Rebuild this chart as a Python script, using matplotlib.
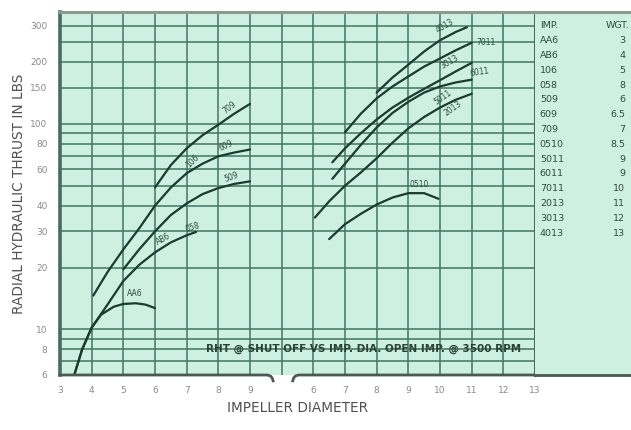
import matplotlib
matplotlib.use('Agg')
import matplotlib.pyplot as plt

# ---- data (impeller dia in inches, thrust in lbs) ----
# left scale, dia 3-9
aa6_x = [3.45, 3.7, 4.0, 4.3, 4.7, 5.0, 5.4, 5.7, 6.0]
aa6_y = [6.0, 8.0, 10.2, 11.8, 12.9, 13.3, 13.4, 13.2, 12.7]
ab6_x = [3.45, 3.7, 4.0, 4.5, 5.0, 5.5, 6.0, 6.5, 7.0, 7.3]
ab6_y = [6.0, 8.0, 10.2, 13.2, 17.2, 20.6, 23.7, 26.5, 28.7, 29.8]
i106_x = [4.05, 4.5, 5.0, 5.5, 6.0, 6.5, 7.0, 7.5, 8.0, 8.5, 9.0]
i106_y = [14.6, 19.0, 24.5, 31.0, 40.0, 49.0, 57.5, 64.0, 69.5, 72.5, 75.0]
i509_x = [5.0, 5.5, 6.0, 6.5, 7.0, 7.5, 8.0, 8.5, 9.0]
i509_y = [19.6, 24.5, 30.0, 36.0, 41.0, 45.5, 48.7, 51.0, 52.5]
i709_x = [6.0, 6.5, 7.0, 7.5, 8.0, 8.5, 9.0]
i709_y = [49.0, 63.0, 76.0, 88.0, 99.0, 112.0, 125.0]

# right scale, dia 6-13
i0510_x = [6.5, 7.0, 7.5, 8.0, 8.5, 9.0, 9.5, 9.95]
i0510_y = [27.5, 32.5, 36.5, 40.5, 43.8, 46.0, 46.0, 43.2]
i5011_x = [6.05, 6.5, 7.0, 7.5, 8.0, 8.5, 9.0, 9.5, 10.0, 10.5, 11.0]
i5011_y = [35.0, 42.0, 50.0, 58.0, 68.0, 81.0, 95.0, 108.0, 120.0, 131.0, 140.0]
i6011_x = [6.6, 7.0, 7.5, 8.0, 8.5, 9.0, 9.5, 10.0, 10.5, 11.0]
i6011_y = [54.0, 64.0, 79.0, 96.0, 113.0, 128.0, 142.0, 152.0, 159.0, 164.0]
i3013_x = [6.6, 7.0, 7.5, 8.0, 8.5, 9.0, 9.5, 10.0, 10.5, 11.0]
i3013_y = [65.0, 76.0, 90.0, 105.0, 120.0, 134.0, 148.0, 163.0, 180.0, 198.0]
i7011_x = [7.0, 7.5, 8.0, 8.5, 9.0, 9.5, 10.0, 10.5, 11.0]
i7011_y = [91.0, 112.0, 133.0, 152.0, 170.0, 190.0, 208.0, 228.0, 248.0]
i4013_x = [8.0, 8.5, 9.0, 9.5, 10.0, 10.5, 10.85]
i4013_y = [142.0, 168.0, 194.0, 225.0, 255.0, 280.0, 295.0]

left_ticks = [3, 4, 5, 6, 7, 8, 9]
right_ticks = [6, 7, 8, 9, 10, 11, 12, 13]
y_ticks = [6, 8, 10, 20, 30, 40, 60, 80, 100, 150, 200, 300]
y_grid = [7, 8, 9, 10, 20, 30, 40, 50, 60, 70, 80, 90, 100, 150, 200, 250, 300]

imp_names = ['AA6', 'AB6', '106', '058', '509', '609', '709', '0510',
             '5011', '6011', '7011', '2013', '3013', '4013']
imp_weights = ['3', '4', '5', '8', '6', '6.5', '7', '8.5',
               '9', '9', '10', '11', '12', '13']

# right-hand scale sits after a break: shift it along the grid
shift = 5

bg = '#cdf0e0'
grid_c = '#46796a'
line_c = '#1c3a30'
text_c = '#2f4a40'

plt.rcParams['font.family'] = ['DejaVu Sans']

fig = plt.figure(figsize=(6.31, 4.30), dpi=100)
ax = fig.add_axes([60 / 631, 55 / 430, 475 / 631, 363 / 430])
ax.set_facecolor(bg)
ax.set_yscale('log')
ax.set_xlim(3, 18)
ax.set_ylim(6, 350)

for v in range(3, 19):
    ax.axvline(v, color=grid_c, lw=1.15, zorder=1)
for v in y_grid:
    ax.axhline(v, color=grid_c, lw=1.15, zorder=1)

left_curves = [(aa6_x, aa6_y), (ab6_x, ab6_y), (i106_x, i106_y),
               (i509_x, i509_y), (i709_x, i709_y)]
right_curves = [(i0510_x, i0510_y), (i5011_x, i5011_y), (i6011_x, i6011_y),
                (i3013_x, i3013_y), (i7011_x, i7011_y), (i4013_x, i4013_y)]
for xs, ys in left_curves:
    ax.plot(xs, ys, color=line_c, lw=1.6, solid_capstyle='round',
            solid_joinstyle='round', zorder=3)
for xs, ys in right_curves:
    ax.plot([x + shift for x in xs], ys, color=line_c, lw=1.6,
            solid_capstyle='round', solid_joinstyle='round', zorder=3)

# curve labels: (text, dia, lbs, angle, on right scale)
labels = [
    ('709', 8.35, 120, 38, False), ('106', 7.2, 66, 45, False),
    ('609', 8.25, 78, 25, False), ('509', 8.4, 55, 20, False),
    ('AB6', 6.25, 27.5, 30, False), ('058', 7.2, 31.5, 18, False),
    ('AA6', 5.35, 15.0, 0, False),
    ('4013', 10.15, 300, 30, True), ('7011', 11.45, 248, 0, True),
    ('3013', 10.3, 200, 30, True), ('6011', 11.25, 178, 8, True),
    ('5011', 10.1, 135, 35, True), ('2013', 10.4, 119, 35, True),
    ('0510', 9.35, 50.5, 0, True),
]
for txt, x, y, rot, right in labels:
    ax.text(x + (shift if right else 0), y, txt, fontsize=5.5, color=text_c,
            rotation=rot, ha='center', va='center', zorder=4)

ax.text(12.6, 8.0, 'RHT @ SHUT OFF VS IMP. DIA. OPEN IMP. @ 3500 RPM',
        fontsize=7.5, fontweight='bold', color='#2a4038', ha='center',
        va='center', zorder=4)

xt = left_ticks + [t + shift for t in right_ticks]
xl = [str(t) for t in left_ticks] + [str(t) for t in right_ticks]
ax.set_xticks(xt)
ax.set_xticklabels(xl)
ax.set_yticks(y_ticks)
ax.set_yticklabels([str(t) for t in y_ticks])
ax.minorticks_off()
ax.tick_params(length=0, labelsize=6.5, labelcolor='#8a8a8a')
ax.tick_params(axis='x', pad=8)
ax.tick_params(axis='y', pad=9)

ax.spines['bottom'].set_visible(False)
ax.spines['left'].set_color('#4c6a60')
ax.spines['left'].set_linewidth(2.6)
ax.spines['right'].set_color('#4c6a60')
ax.spines['right'].set_linewidth(2.2)
ax.spines['top'].set_color('#8c9a95')
ax.spines['top'].set_linewidth(2.2)

# broken bottom axis
tr = ax.get_xaxis_transform()
ax.plot([3, 9.55, 9.65, 9.7, 9.73], [0, 0, -0.003, -0.008, -0.016],
        transform=tr, color='#4c5a55', lw=2.0, clip_on=False, zorder=5)
ax.plot([10.35, 10.38, 10.43, 10.53, 18], [-0.016, -0.008, -0.003, 0, 0],
        transform=tr, color='#4c5a55', lw=2.0, clip_on=False, zorder=5)

ax.set_ylabel('RADIAL HYDRAULIC THRUST IN LBS', fontsize=9.8, color='#505050')
ax.yaxis.set_label_coords(-0.072, 0.50)
ax.set_xlabel('IMPELLER DIAMETER', fontsize=9.8, color='#505050')
ax.xaxis.set_label_coords(0.5, -0.072)

# weight table panel
tab = fig.add_axes([535 / 631, 55 / 430, 96 / 631, 363 / 430])
tab.set_facecolor(bg)
tab.set_xticks([])
tab.set_yticks([])
for s in ['left', 'right']:
    tab.spines[s].set_visible(False)
tab.spines['top'].set_color('#8c9a95')
tab.spines['top'].set_linewidth(2.2)
tab.spines['bottom'].set_color('#4c5a55')
tab.spines['bottom'].set_linewidth(2.0)

row_h = 14.8 / 363
top = 1 - 14 / 363
tab.text(0.05, top, 'IMP.', fontsize=6.8, color=text_c, va='center',
         transform=tab.transAxes)
tab.text(0.99, top, 'WGT.', fontsize=6.8, color=text_c, va='center',
         ha='right', transform=tab.transAxes)
for i, (n, w) in enumerate(zip(imp_names, imp_weights)):
    yy = top - (i + 1) * row_h
    tab.text(0.05, yy, n, fontsize=6.8, color=text_c, va='center',
             transform=tab.transAxes)
    tab.text(0.94, yy, w, fontsize=6.8, color=text_c, va='center',
             ha='right', transform=tab.transAxes)

fig.savefig('out.png', dpi=100)
